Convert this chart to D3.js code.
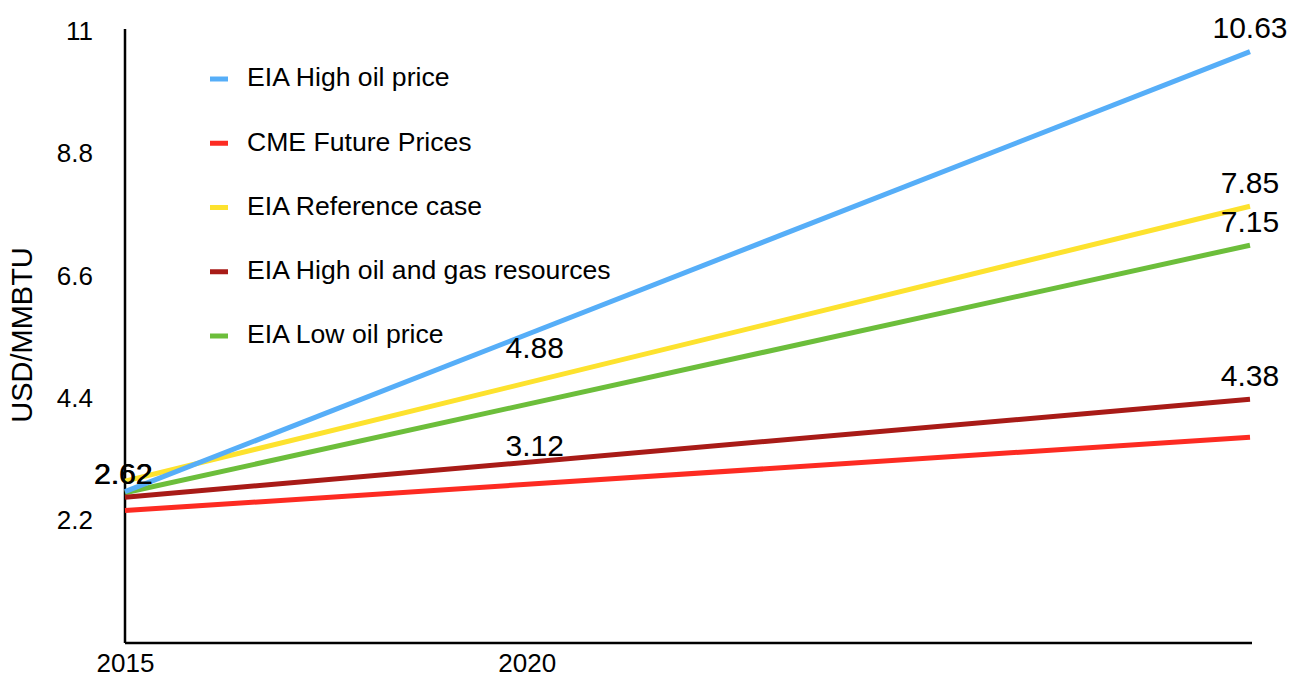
<!DOCTYPE html>
<html>
<head>
<meta charset="utf-8">
<script src="https://cdn.jsdelivr.net/npm/d3@7"></script>
<style>
  html, body { margin: 0; padding: 0; background: #ffffff; }
  svg { display: block; }
  text { font-family: Helvetica, "Liberation Sans", Arial, sans-serif; fill: #000; }
</style>
</head>
<body>
<svg id="chart" width="1293" height="677"></svg>
<script>
// Natural gas price outlook, USD/MMBTU
const years = [2015, 2029];
const xTickYears = [2015, 2020];
const yTickValues = [2.2, 4.4, 6.6, 8.8, 11];

const seriesNames = [
  "EIA High oil price",
  "CME Future Prices",
  "EIA Reference case",
  "EIA High oil and gas resources",
  "EIA Low oil price"
];
const seriesColors = ["#56aef8", "#fd2b22", "#fde22e", "#a81b17", "#6cbe3b"];

const highOilPrice = [2.72, 10.63];
const cmeFutures = [2.38, 3.70];
const referenceCase = [2.91, 7.85];
const highResources = [2.62, 4.38];
const lowOilPrice = [2.70, 7.15];

// Value labels written on the chart
const endLabels = [10.63, 7.85, 7.15, 4.38];
const midYear = 2020;
const midLabels = [4.88, 3.12];
const startLabel = 2.62;

const seriesValues = [highOilPrice, cmeFutures, referenceCase, highResources, lowOilPrice];
const series = seriesNames.map((name, i) => ({
  name,
  color: seriesColors[i],
  points: years.map((yr, j) => ({ year: yr, value: seriesValues[i][j] }))
}));

const svg = d3.select("#chart");

const x = d3.scaleLinear().domain([years[0], years[1]]).range([125, 1250]);
const y = d3.scaleLinear().domain([0, 11]).range([643, 31]);

// Axes
const xAxis = svg.append("g")
  .attr("transform", `translate(0,${y(0)})`)
  .call(d3.axisBottom(x).tickValues(xTickYears).tickFormat(d3.format("d")).tickSize(0).tickPadding(11));
xAxis.select(".domain").attr("stroke", "#000").attr("stroke-width", 2.5)
  .attr("d", `M${x(years[0])},0H${x(years[1]) + 2}`);
xAxis.selectAll(".tick text").style("font-size", "26px").style("font-family", null);

const yAxis = svg.append("g")
  .attr("transform", `translate(${x(years[0])},0)`)
  .call(d3.axisLeft(y).tickValues(yTickValues).tickFormat(d => String(d)).tickSize(0).tickPadding(32));
yAxis.select(".domain").attr("stroke", "#000").attr("stroke-width", 2.5)
  .attr("d", `M0,${y(0)}V${y(11) - 2}`);
yAxis.selectAll(".tick text").style("font-size", "26px").style("font-family", null);

svg.append("text")
  .attr("transform", `translate(32,335) rotate(-90)`)
  .attr("text-anchor", "middle")
  .style("font-size", "29px")
  .text("USD/MMBTU");

// Series lines
const line = d3.line().x(d => x(d.year)).y(d => y(d.value));
const drawOrder = [4, 3, 2, 1, 0];
svg.append("g").selectAll("path")
  .data(drawOrder.map(i => series[i]))
  .join("path")
  .attr("d", d => line(d.points))
  .attr("fill", "none")
  .attr("stroke", d => d.color)
  .attr("stroke-width", 5);

// Legend
const legend = svg.append("g");
const legendRow = legend.selectAll("g")
  .data(series)
  .join("g")
  .attr("transform", (d, i) => `translate(210,${77 + i * 64.25})`);
legendRow.append("line")
  .attr("x1", 0).attr("x2", 18).attr("y1", 2).attr("y2", 2)
  .attr("stroke", d => d.color).attr("stroke-width", 5);
legendRow.append("text")
  .attr("x", 37).attr("dy", "0.35em")
  .style("font-size", "26.6px")
  .text(d => d.name);

// Value labels
const labelFont = "30px";
const labelGap = 13.5;
svg.append("g").selectAll("text")
  .data(endLabels)
  .join("text")
  .attr("x", x(years[1]))
  .attr("y", d => y(d) - labelGap)
  .attr("text-anchor", "middle")
  .style("font-size", labelFont)
  .text(d => d.toFixed(2));

svg.append("g").selectAll("text")
  .data(midLabels)
  .join("text")
  .attr("x", x(midYear) + 8)
  .attr("y", d => y(d) - labelGap)
  .attr("text-anchor", "middle")
  .style("font-size", labelFont)
  .text(d => d.toFixed(2));

// Two series share the same starting label
svg.append("g").selectAll("text")
  .data([0, 0.8])
  .join("text")
  .attr("x", d => x(years[0]) - 2 + d)
  .attr("y", y(startLabel) - labelGap)
  .attr("text-anchor", "middle")
  .style("font-size", labelFont)
  .text(startLabel.toFixed(2));
</script>
</body>
</html>
